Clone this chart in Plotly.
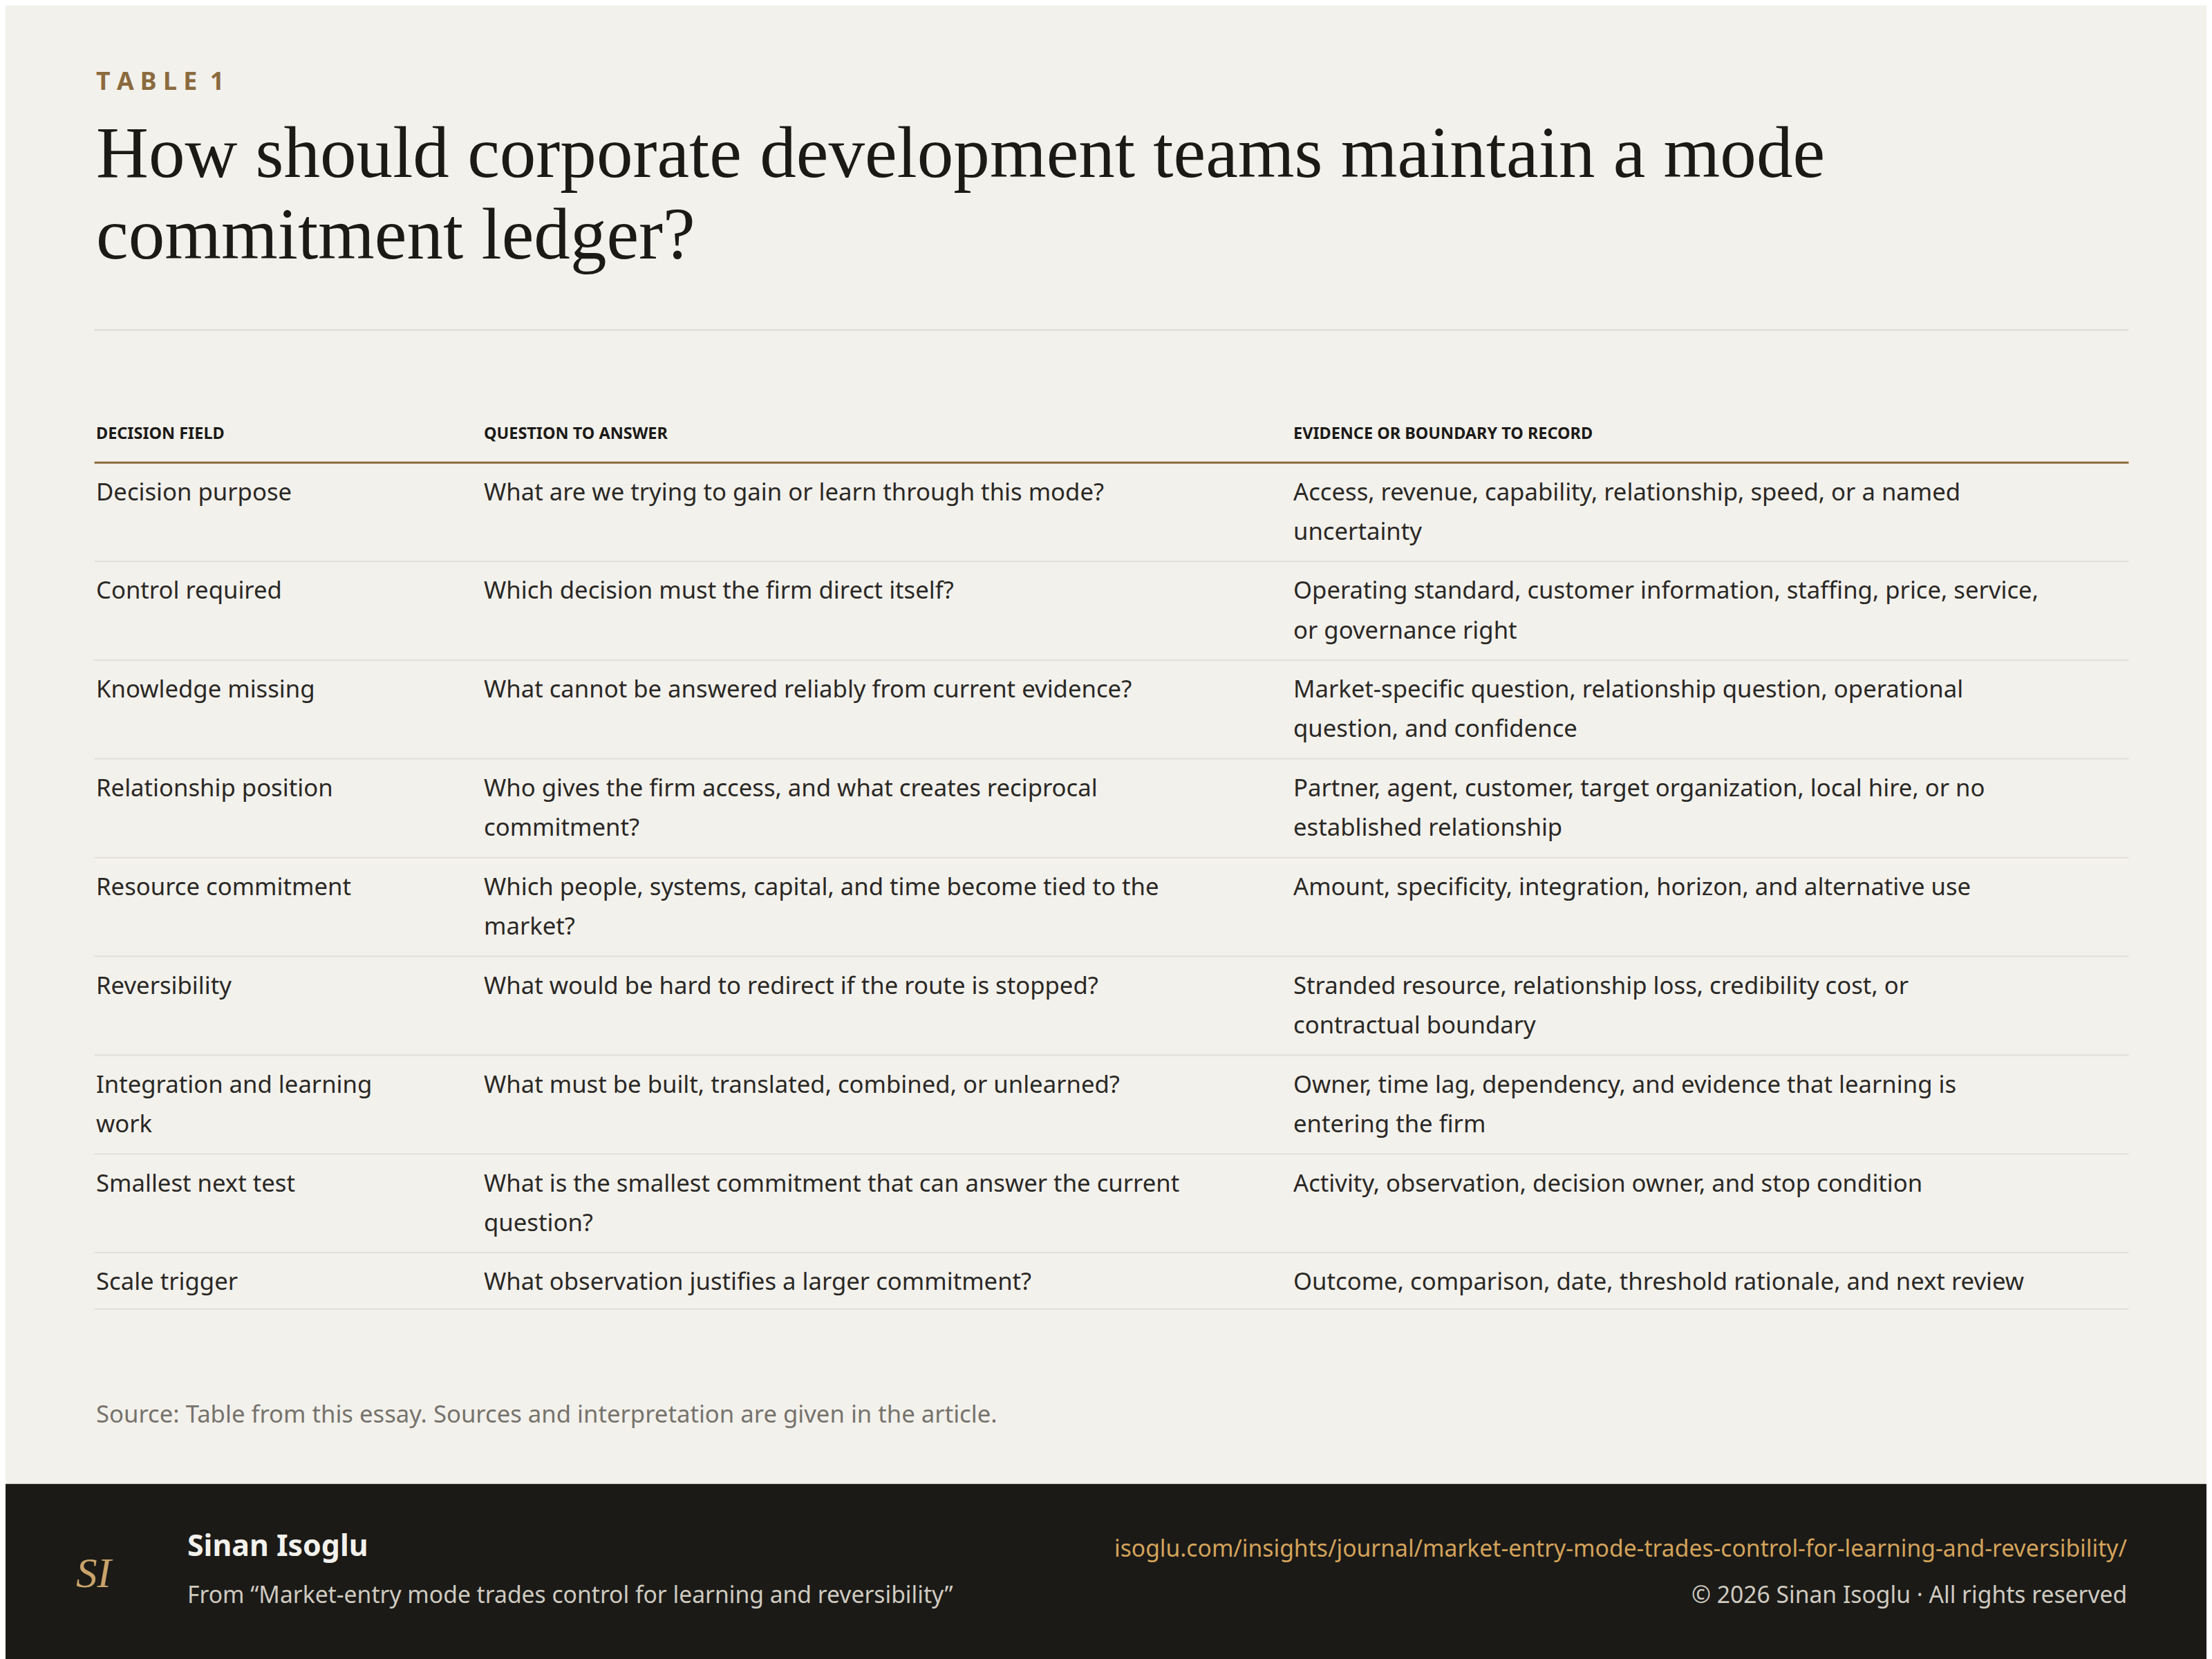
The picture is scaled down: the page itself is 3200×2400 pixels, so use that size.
import plotly.graph_objects as go

fields = ["Decision purpose", "Control required", "Knowledge missing", "Relationship position",
          "Resource commitment", "Reversibility", "Integration and learning<br>work",
          "Smallest next test", "Scale trigger"]
questions = ["What are we trying to gain or learn through this mode?",
             "Which decision must the firm direct itself?",
             "What cannot be answered reliably from current evidence?",
             "Who gives the firm access, and what creates reciprocal<br>commitment?",
             "Which people, systems, capital, and time become tied to the<br>market?",
             "What would be hard to redirect if the route is stopped?",
             "What must be built, translated, combined, or unlearned?",
             "What is the smallest commitment that can answer the current<br>question?",
             "What observation justifies a larger commitment?"]
evidence = ["Access, revenue, capability, relationship, speed, or a named<br>uncertainty",
            "Operating standard, customer information, staffing, price, service,<br>or governance right",
            "Market-specific question, relationship question, operational<br>question, and confidence",
            "Partner, agent, customer, target organization, local hire, or no<br>established relationship",
            "Amount, specificity, integration, horizon, and alternative use",
            "Stranded resource, relationship loss, credibility cost, or<br>contractual boundary",
            "Owner, time lag, dependency, and evidence that learning is<br>entering the firm",
            "Activity, observation, decision owner, and stop condition",
            "Outcome, comparison, date, threshold rationale, and next review"]
headers = ["DECISION FIELD", "QUESTION TO ANSWER", "EVIDENCE OR BOUNDARY TO RECORD"]

W, H = 1568, 1176
S = 3200 / W
def X(x): return x / W
def Y(y): return 1 - y / H

BODY = "Noto Sans"
ann, shapes = [], []
def text(x, y, t, size, color, family=BODY, xanchor="left", yanchor="middle"):
    ann.append(dict(x=X(x), y=Y(y), xref="paper", yref="paper", text=t, showarrow=False,
                    xanchor=xanchor, yanchor=yanchor, align=xanchor if xanchor != "center" else "center",
                    font=dict(size=size * S, color=color, family=family)))
def line(x0, y0, x1, y1, color, w):
    shapes.append(dict(type="line", xref="paper", yref="paper", x0=X(x0), x1=X(x1),
                       y0=Y(y0), y1=Y(y1), line=dict(color=color, width=w * S)))

bg = "#f3f1ec"
text(63, 53, "<b>T A B L E  1</b>", 17.5, "#8b6a3e")
text(63, 104, "How should corporate development teams maintain a mode", 51.5, "#1b1a17",
     family="Liberation Serif")
text(63, 162, "commitment ledger?", 51.5, "#1b1a17", family="Liberation Serif")
line(63, 230, 1505, 230, "#dedbd3", 1)

colx = [63, 338, 912]
for cx, h in zip(colx, headers):
    text(cx, 303, "<b>" + h + "</b>", 11.5, "#1b1a17")
line(63, 324, 1505, 324, "#8b6a3e", 1.5)

for i, (f, q, e) in enumerate(zip(fields, questions, evidence)):
    y = 344 + 70 * i
    for cx, t in zip(colx, (f, q, e)):
        for k, part in enumerate(t.split("<br>")):
            text(cx, y + 28 * k, part, 17, "#2a2825")
    ybot = 394 + 70 * i if i < len(fields) - 1 else 924
    line(63, ybot, 1505, ybot, "#e2dfd7", 1)

text(63, 998, "Source: Table from this essay. Sources and interpretation are given in the article.",
     17, "#76736c")

shapes.append(dict(type="rect", xref="paper", yref="paper", x0=0, x1=1, y0=0, y1=Y(1048),
                   fillcolor="#1b1a17", line=dict(width=0), layer="below"))
text(63, 1111, "<i>SI</i>", 30, "#c9a36a", family="Liberation Serif", xanchor="center")
text(128, 1091, "<b>Sinan Isoglu</b>", 21, "#f3f1ec")
text(128, 1126, "From “Market-entry mode trades control for learning and reversibility”", 16.5, "#cfcac0")
text(1505, 1093, "isoglu.com/insights/journal/market-entry-mode-trades-control-for-learning-and-reversibility/",
     16.5, "#d4a35a", xanchor="right")
text(1505, 1126, "© 2026 Sinan Isoglu · All rights reserved", 16.5, "#cfcac0", xanchor="right")

fig = go.Figure()
fig.update_layout(width=3200, height=2400, margin=dict(l=0, r=0, t=0, b=0),
                  paper_bgcolor=bg, plot_bgcolor=bg, annotations=ann, shapes=shapes,
                  xaxis=dict(visible=False), yaxis=dict(visible=False))
fig.write_html("out.html")
